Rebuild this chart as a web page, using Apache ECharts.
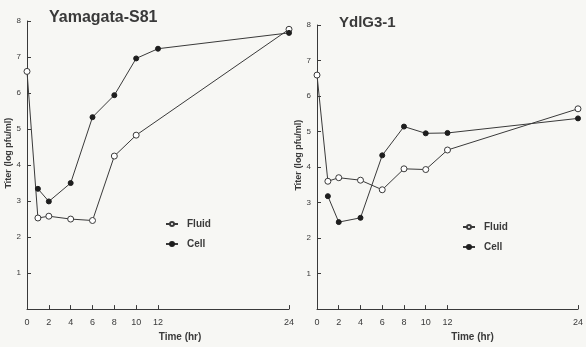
<!DOCTYPE html>
<html>
<head>
<meta charset="utf-8">
<script src="https://cdn.jsdelivr.net/npm/echarts@6/dist/echarts.min.js"></script>
<style>
  html, body { margin: 0; padding: 0; background: #f7f7f4; }
  #chart { width: 586px; height: 347px; }
</style>
</head>
<body>
<div id="chart"></div>
<script>
// Virus titer time courses (log pfu/ml) for two strains, fluid vs. cell-associated
const panelTitles = ['Yamagata-S81', 'YdlG3-1'];

const yamagataFluidTime = [0, 1, 2, 4, 6, 8, 10, 24];
const yamagataFluid     = [6.6, 2.53, 2.58, 2.5, 2.46, 4.25, 4.83, 7.77];
const yamagataCellTime  = [1, 2, 4, 6, 8, 10, 12, 24];
const yamagataCell      = [3.34, 2.99, 3.5, 5.33, 5.94, 6.96, 7.23, 7.67];

const ydlFluidTime = [0, 1, 2, 4, 6, 8, 10, 12, 24];
const ydlFluid     = [6.59, 3.6, 3.7, 3.63, 3.36, 3.95, 3.93, 4.48, 5.64];
const ydlCellTime  = [1, 2, 4, 6, 8, 10, 12, 24];
const ydlCell      = [3.18, 2.45, 2.57, 4.33, 5.14, 4.95, 4.96, 5.37];

const xTickValues = [0, 2, 4, 6, 8, 10, 12, 24];
const yTickValues = [1, 2, 3, 4, 5, 6, 7, 8];

const ink = '#3a3a3a';
const font = 'Liberation Sans, Arial, sans-serif';

function pairs(xs, ys) { return xs.map((x, i) => [x, ys[i]]); }

function xAxisFor(gridIndex, padLeft) {
  return {
    type: 'value', gridIndex, min: 0, max: 24,
    name: 'Time (hr)', nameLocation: 'middle', nameGap: 20,
    nameTextStyle: { color: ink, fontFamily: font, fontWeight: 'bold', fontSize: 10, padding: [0, 0, 0, padLeft] },
    axisLine: { show: true, lineStyle: { color: ink, width: 1 } },
    axisTick: { show: true, inside: true, length: 4, customValues: xTickValues.slice(1), lineStyle: { color: ink } },
    axisLabel: { customValues: xTickValues, color: ink, fontFamily: font, fontSize: 9, margin: 9 },
    splitLine: { show: false }
  };
}

function yAxisFor(gridIndex) {
  return {
    type: 'value', gridIndex, min: 0, max: 8,
    name: 'Titer (log pfu/ml)', nameLocation: 'middle', nameGap: 14, nameRotate: 90,
    nameTextStyle: { color: ink, fontFamily: font, fontWeight: 'bold', fontSize: 9, padding: [0, 0, 0, 24] },
    axisLine: { show: true, lineStyle: { color: ink, width: 1 } },
    axisTick: { show: true, inside: true, length: 4, customValues: yTickValues, lineStyle: { color: ink } },
    axisLabel: { customValues: yTickValues, color: ink, fontFamily: font, fontSize: 8, margin: 6 },
    splitLine: { show: false }
  };
}

function fluidSeries(idx, data) {
  return {
    name: 'Fluid', type: 'line', xAxisIndex: idx, yAxisIndex: idx, data,
    symbol: 'circle', symbolSize: 6,
    lineStyle: { color: ink, width: 1 },
    itemStyle: { color: '#ffffff', borderColor: ink, borderWidth: 1 },
    emphasis: { disabled: true }, animation: false
  };
}

function cellSeries(idx, data) {
  return {
    name: 'Cell', type: 'line', xAxisIndex: idx, yAxisIndex: idx, data,
    symbol: 'circle', symbolSize: 5,
    lineStyle: { color: ink, width: 1 },
    itemStyle: { color: '#1e1e1e', borderColor: '#1e1e1e', borderWidth: 1 },
    emphasis: { disabled: true }, animation: false
  };
}

function legendAt(left, top) {
  return {
    left, top, orient: 'vertical', itemGap: 10, itemWidth: 12, itemHeight: 5,
    data: ['Fluid', 'Cell'], selectedMode: false,
    textStyle: { color: ink, fontFamily: font, fontWeight: 'bold', fontSize: 10, padding: [0, 0, 0, 4] }
  };
}

const chart = echarts.init(document.getElementById('chart'), null, { renderer: 'canvas' });
chart.setOption({
  backgroundColor: '#f7f7f4',
  animation: false,
  title: [
    { text: panelTitles[0], left: 44, top: 5, textStyle: { color: ink, fontFamily: font, fontWeight: 'bold', fontSize: 16 } },
    { text: panelTitles[1], left: 334, top: 10, textStyle: { color: ink, fontFamily: font, fontWeight: 'bold', fontSize: 15 } }
  ],
  legend: [legendAt(160, 214), legendAt(457, 217)],
  grid: [
    { left: 27, right: 297, top: 21, bottom: 33 },
    { left: 317, right: 6, top: 25, bottom: 29 }
  ],
  xAxis: [xAxisFor(0, 44), xAxisFor(1, 50)],
  yAxis: [yAxisFor(0), yAxisFor(1)],
  series: [
    fluidSeries(0, pairs(yamagataFluidTime, yamagataFluid)),
    cellSeries(0, pairs(yamagataCellTime, yamagataCell)),
    fluidSeries(1, pairs(ydlFluidTime, ydlFluid)),
    cellSeries(1, pairs(ydlCellTime, ydlCell))
  ]
});
</script>
</body>
</html>
